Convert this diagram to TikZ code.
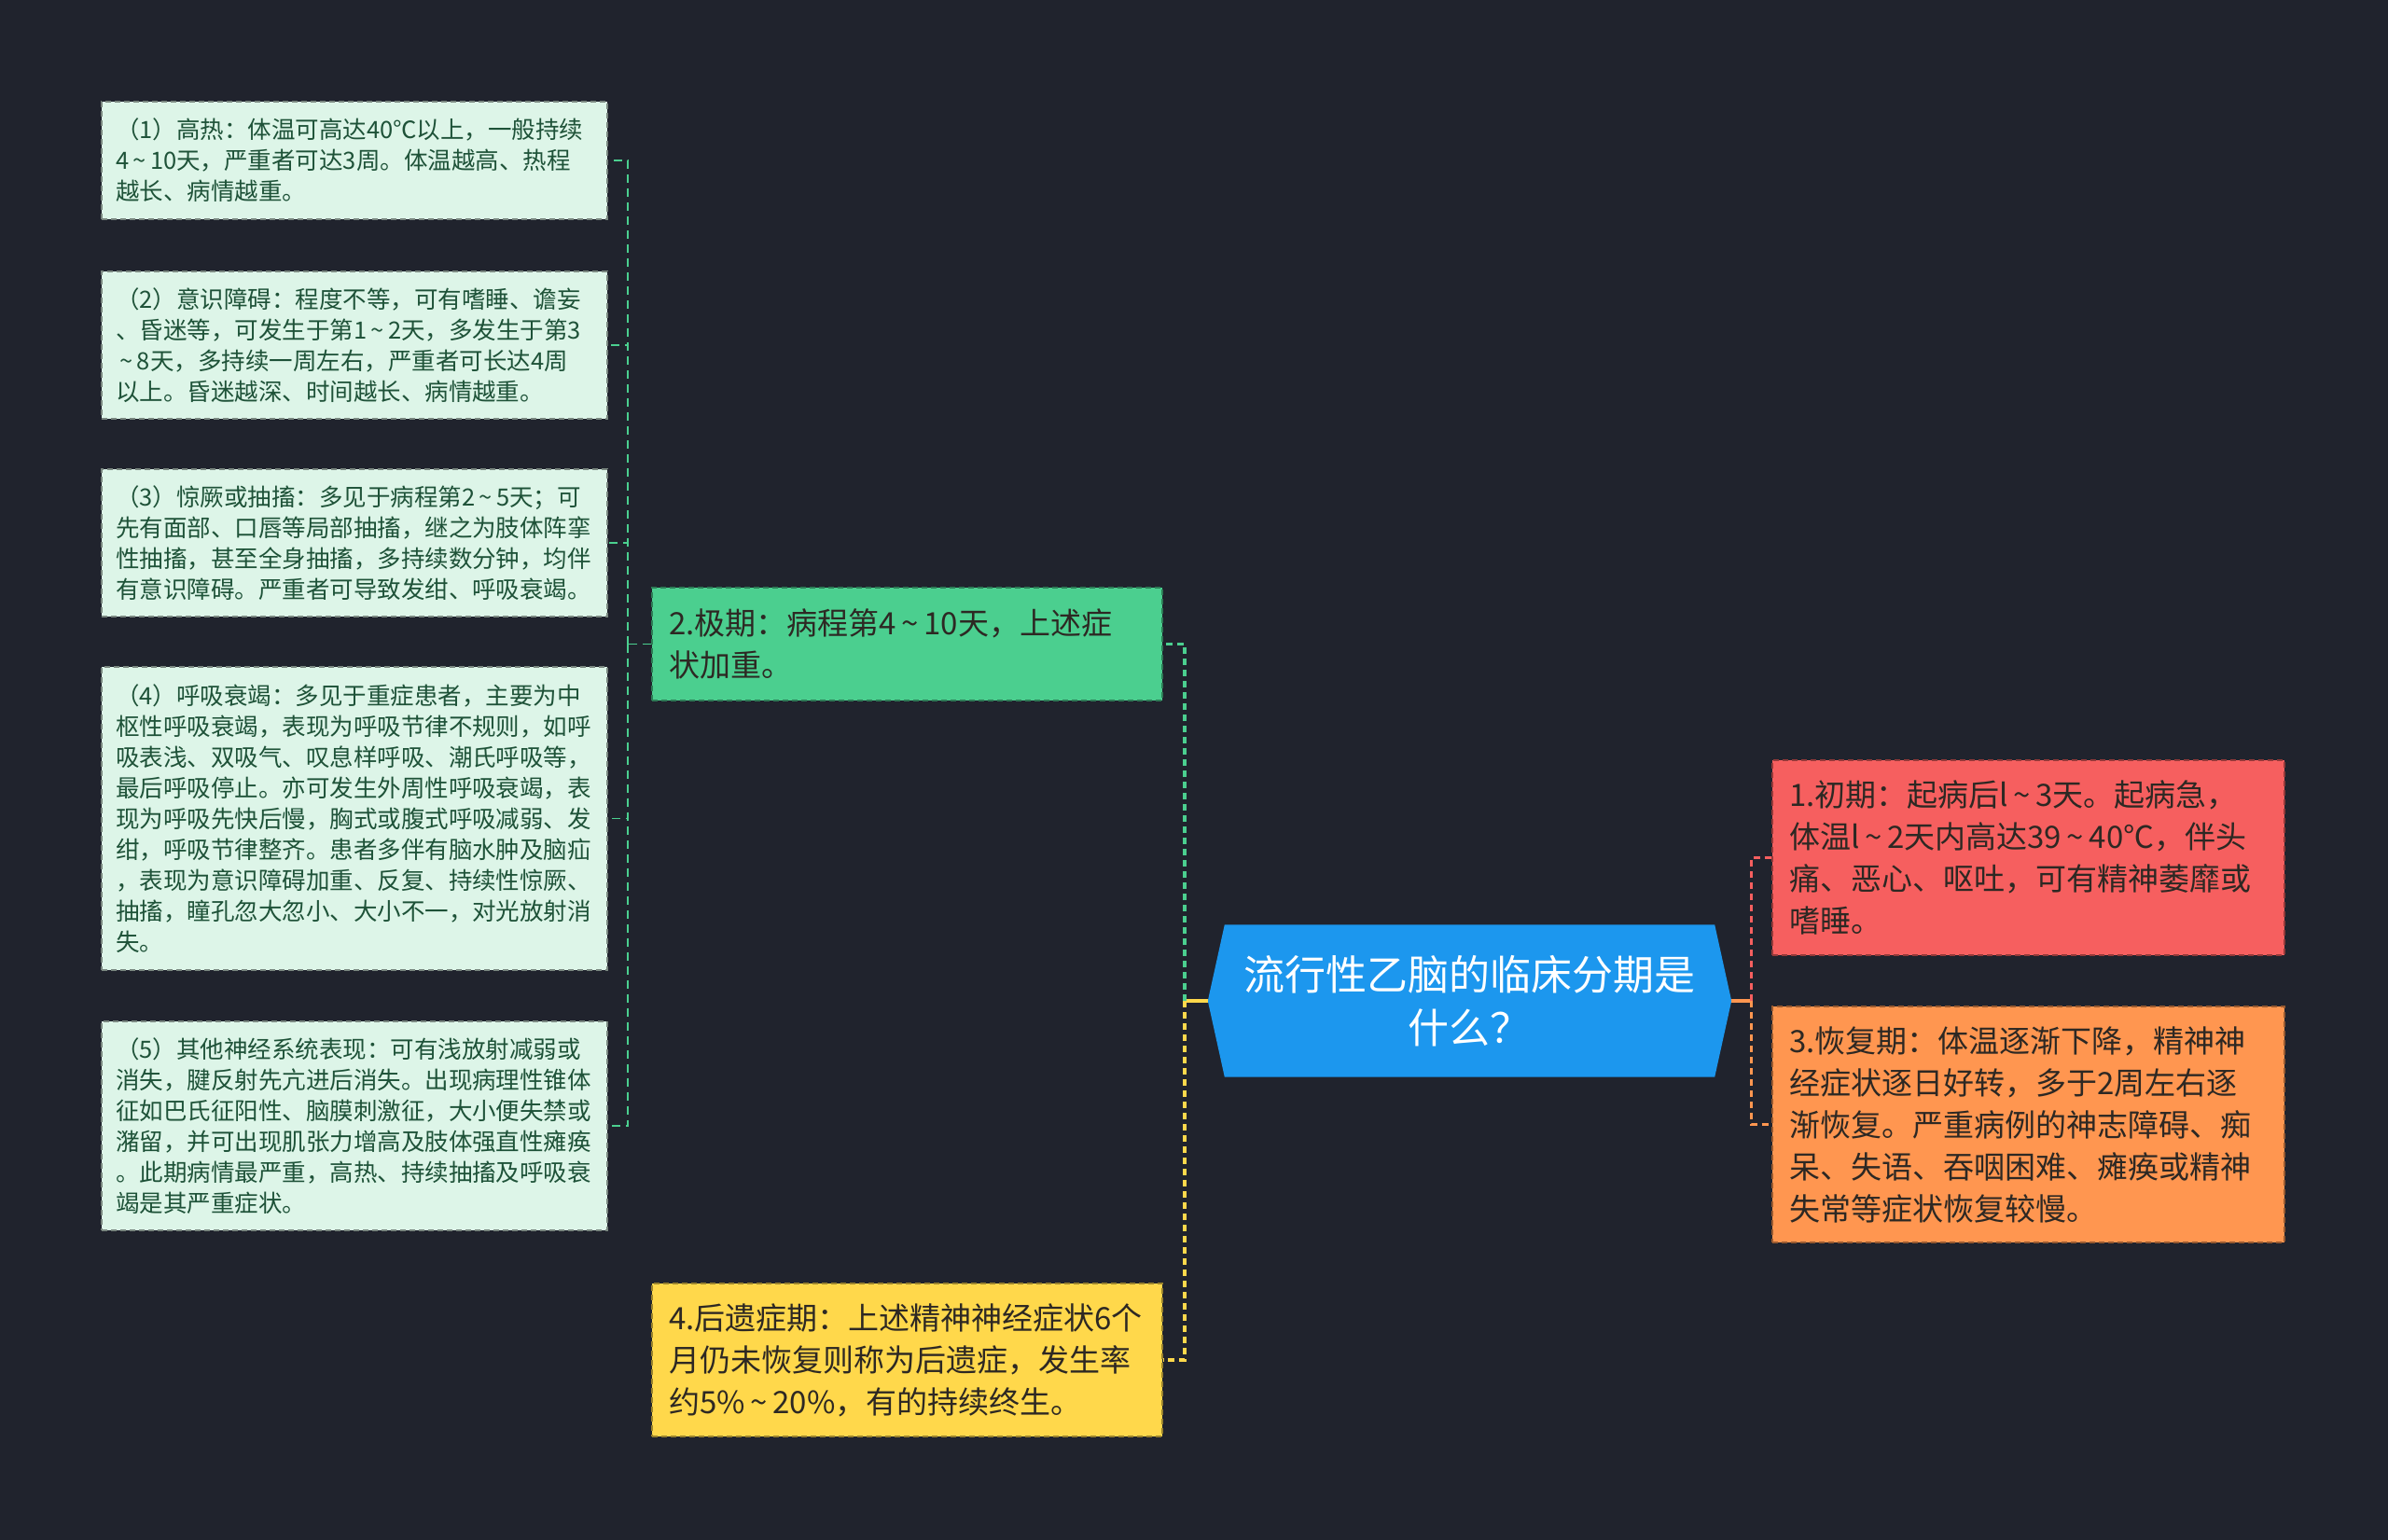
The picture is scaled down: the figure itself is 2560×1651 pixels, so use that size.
\documentclass[tikz,border=0pt]{standalone}
\usepackage{fontspec}
\setmainfont{Noto Sans CJK SC}
\usetikzlibrary{calc}
\definecolor{bg}{RGB}{32,35,45}
\definecolor{leaffill}{RGB}{221,245,232}
\definecolor{leaftext}{RGB}{30,82,56}
\definecolor{gfill}{RGB}{75,207,143}
\definecolor{yfill}{RGB}{255,216,75}
\definecolor{rfill}{RGB}{246,95,95}
\definecolor{ofill}{RGB}{255,150,80}
\definecolor{bfill}{RGB}{28,151,238}
\definecolor{darktext}{RGB}{45,40,35}
\newcommand\wavesym{\makebox[0.9em]{\char"007E}}
\pgfdeclarelayer{bgl}
\pgfsetlayers{bgl,main}
\begin{document}
\begin{tikzpicture}[x=1pt,y=-1pt,
  leaf/.style={fill=leaffill, draw=leaffill!55!black, dash pattern=on 6pt off 4pt, line width=1.2pt,
    text=leaftext, inner xsep=15pt, inner ysep=0pt, text width=512pt, minimum height=#1,
    align=left, font=\fontsize{25.5}{33}\selectfont},
  stage/.style={fill=#1, draw=#1!60!black, dash pattern=on 6pt off 4pt, line width=1.2pt,
    text=darktext, inner xsep=18pt, inner ysep=0pt, text width=512pt,
    align=left, font=\fontsize{33}{45}\selectfont},
  leafline/.style={draw=gfill, line width=1.8pt, dash pattern=on 9pt off 6pt},
  gdash/.style={draw=gfill, line width=3.5pt, dash pattern=on 7pt off 5pt},
  ydash/.style={draw=yfill, line width=3.5pt, dash pattern=on 7pt off 5pt},
  rdash/.style={draw=rfill, line width=3pt, dash pattern=on 7pt off 5pt},
  odash/.style={draw=ofill, line width=3pt, dash pattern=on 7pt off 5pt},
  ysolid/.style={draw=yfill, line width=3.5pt},
  osolid/.style={draw=ofill, line width=3.5pt}
]
\begin{pgfonlayer}{bgl}
\fill[bg] (0,0) rectangle (2560,1651);
\end{pgfonlayer}
\useasboundingbox (0,0) rectangle (2560,1651);

% leaves
\node[leaf=126pt] (l1) at (380,172) {（1）高热：体温可高达40℃以上，一般持续\\4\wavesym 10天，严重者可达3周。体温越高、热程\\越长、病情越重。};
\node[leaf=158pt] (l2) at (380,370) {（2）意识障碍：程度不等，可有嗜睡、谵妄\\、昏迷等，可发生于第1\wavesym 2天，多发生于第3\\\wavesym 8天，多持续一周左右，严重者可长达4周\\以上。昏迷越深、时间越长、病情越重。};
\node[leaf=158pt] (l3) at (380,582) {（3）惊厥或抽搐：多见于病程第2\wavesym 5天；可\\先有面部、口唇等局部抽搐，继之为肢体阵挛\\性抽搐，甚至全身抽搐，多持续数分钟，均伴\\有意识障碍。严重者可导致发绀、呼吸衰竭。};
\node[leaf=325pt] (l4) at (380,877.5) {（4）呼吸衰竭：多见于重症患者，主要为中\\枢性呼吸衰竭，表现为呼吸节律不规则，如呼\\吸表浅、双吸气、叹息样呼吸、潮氏呼吸等，\\最后呼吸停止。亦可发生外周性呼吸衰竭，表\\现为呼吸先快后慢，胸式或腹式呼吸减弱、发\\绀，呼吸节律整齐。患者多伴有脑水肿及脑疝\\，表现为意识障碍加重、反复、持续性惊厥、\\抽搐，瞳孔忽大忽小、大小不一，对光放射消\\失。};
\node[leaf=224pt] (l5) at (380,1207) {（5）其他神经系统表现：可有浅放射减弱或\\消失，腱反射先亢进后消失。出现病理性锥体\\征如巴氏征阳性、脑膜刺激征，大小便失禁或\\潴留，并可出现肌张力增高及肢体强直性瘫痪\\。此期病情最严重，高热、持续抽搐及呼吸衰\\竭是其严重症状。};

% stages
\node[stage=gfill, minimum height=121pt, text width=511pt] (n2) at (972.5,690.5) {2.极期：病程第4\wavesym 10天，上述症\\状加重。};
\node[stage=yfill, minimum height=164pt, text width=511pt] (n4) at (972.5,1458) {4.后遗症期：上述精神神经症状6个\\月仍未恢复则称为后遗症，发生率\\约5\%\wavesym 20\%，有的持续终生。};
\node[stage=rfill, minimum height=209pt, text width=513pt] (n1) at (2174.5,919.5) {1.初期：起病后l\wavesym 3天。起病急，\\体温l\wavesym 2天内高达39\wavesym 40℃，伴头\\痛、恶心、呕吐，可有精神萎靡或\\嗜睡。};
\node[stage=ofill, minimum height=253pt, text width=513pt] (n3) at (2174.5,1205.5) {3.恢复期：体温逐渐下降，精神神\\经症状逐日好转，多于2周左右逐\\渐恢复。严重病例的神志障碍、痴\\呆、失语、吞咽困难、瘫痪或精神\\失常等症状恢复较慢。};

% root
\node[minimum width=525pt, minimum height=163pt, inner sep=0pt, align=center, text=white,
  font=\fontsize{44}{57}\selectfont] (root) at (1575.5,1073) {流行性乙脑的临床分期是\\什么？};
\coordinate (rootL) at ($(root.west)+(-18,0)$);
\coordinate (rootR) at ($(root.east)+(18,0)$);

\coordinate (jleaf) at (673,690.5);
\coordinate (jl) at (1270,1073);
\coordinate (jr) at (1877,1073);

\begin{pgfonlayer}{bgl}
\fill[bfill] (root.north west) -- (root.north east) -- (rootR) -- (root.south east) -- (root.south west) -- (rootL) -- cycle;
\draw[leafline] (n2.west) -- (jleaf);
\foreach \l in {l1,l2,l3,l4,l5} \draw[leafline] (jleaf) |- (\l.east);
\draw[ysolid] (rootL) -- (jl);
\draw[gdash] (jl) |- (n2.east);
\draw[ydash] (jl) |- (n4.east);
\draw[osolid] (rootR) -- (jr);
\draw[rdash] (jr) |- (n1.west);
\draw[odash] (jr) |- (n3.west);
\end{pgfonlayer}
\end{tikzpicture}
\end{document}
